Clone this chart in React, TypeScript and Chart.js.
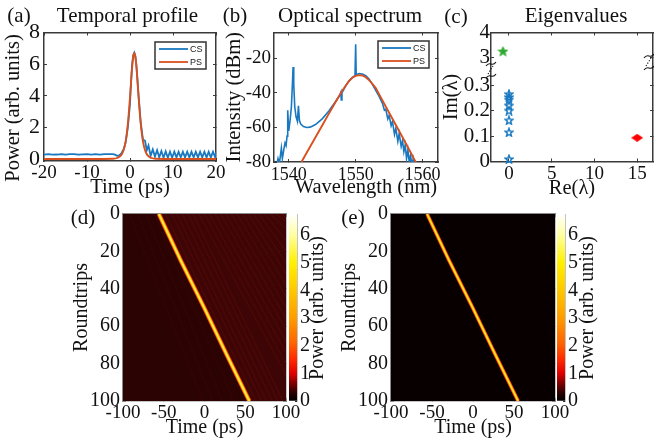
import React, { useEffect, useRef } from "react";
import { Chart, LinearScale, registerables } from "chart.js";

Chart.register(...registerables);

// ---------- data ----------
const csTimeLeft = [-20,-19,-18,-17,-16,-15,-14,-13,-12,-11,-10,-9,-8,-7,-6,-5,-4,-3.5,-3,-2.5,-2,-1.5,-1,-0.5,0,0.25,0.5,0.75,1,1.25,1.5,2,2.5,3,3.2,3.5,3.9];
const csPowerLeft = [0.27,0.3,0.27,0.28,0.31,0.27,0.3,0.31,0.27,0.29,0.31,0.27,0.3,0.27,0.31,0.3,0.3,0.27,0.2,0.22,0.36,0.6,1.05,2.0,3.5,4.9,6.0,6.55,6.72,6.5,5.9,4.0,2.3,1.25,1.2,1.15,0.55];
const csTimeRight = [4.3,4.8,5.3,5.8,6.3,6.8,7.3,7.8,8.3,8.8,9.3,9.8,10.3,10.8,11.3,11.8,12.3,12.8,13.3,13.8,14.3,14.8,15.3,15.8,16.3,16.8,17.3,17.8,18.3,18.8,19.3,19.8,20];
const csPowerRight = [0.85,0.2,0.6,0.15,0.55,0.1,0.5,0.08,0.48,0.08,0.46,0.08,0.46,0.1,0.45,0.1,0.45,0.1,0.46,0.1,0.45,0.1,0.45,0.1,0.46,0.1,0.46,0.1,0.45,0.1,0.46,0.1,0.42];
const psTime = [-20,-6,-4,-3,-2,-1.5,-1,-0.5,0,0.25,0.5,0.75,1,1.25,1.5,1.75,2,2.5,3,3.5,4,5,6,8,20];
const psPower = [0,0,0.01,0.06,0.26,0.55,1.13,2.21,3.9,4.89,5.8,6.46,6.7,6.46,5.8,4.89,3.9,2.21,1.13,0.55,0.26,0.06,0.01,0,0];

const specCsWave = [1538.2,1538.4,1538.6,1538.9,1539.05,1539.3,1539.45,1539.6,1539.75,1539.85,1540,1540.2,1540.4,1540.55,1540.65,1540.75,1540.9,1541.1,1541.3,1541.45,1541.6,1541.8,1542.2,1542.7,1543.2,1544,1545,1546,1547,1547.6,1547.8,1547.85,1547.95,1548.5,1549,1549.5,1549.9,1550,1550.08,1550.5,1551,1551.5,1552,1552.5,1553,1553.5,1554,1554.3,1554.5,1554.8,1555,1555.3,1555.5,1555.8,1556,1556.3,1556.5,1556.8,1557,1557.2,1557.4,1557.6,1557.8,1558,1558.2,1558.4,1558.6,1558.8];
const specCsDb = [-82,-78,-81,-72,-78,-72,-69,-70.5,-65,-50,-62,-56,-48,-35,-25,-35,-48,-54,-56.5,-47.5,-56,-58,-59.5,-60,-59.8,-58.3,-55,-50.5,-45,-41.5,-39.5,-44,-40,-36,-33,-31,-30,-11.8,-29.5,-28.8,-29,-30,-32,-35,-38.5,-42,-46,-50,-49.5,-55,-53,-59,-56.5,-64,-60.5,-68,-63.5,-71,-67.5,-74,-70,-78,-73,-80,-76,-82,-78,-83];
const specPsWave = [1541.9,1543,1544,1545,1546,1547,1548,1548.5,1549,1549.5,1550,1550.5,1551,1551.5,1552,1552.5,1553,1554,1555,1556,1557,1558,1559];
const specPsDb = [-80,-72.5,-65.7,-58.9,-52,-45.3,-38.7,-35.8,-33.2,-31.2,-30.1,-29.7,-29.9,-30.9,-32.6,-34.7,-37.2,-44.3,-51.5,-58.6,-65.7,-72.9,-80.3];

const eigRadiationRe = [0,0,0,0,0,0,0,0];
const eigRadiationIm = [0.265,0.253,0.243,0.22,0.2,0.162,0.115,0.01];
const eigSolitonRe = [-0.7];
const eigSolitonIm = [3.24];
const eigPerturbRe = [15];
const eigPerturbIm = [0.093];

const roundtrips = [0,25,50,75,100];
const ridgeTimeD = [-56,-29,-0.5,27,55];
const ridgeTimeE = [-56,-29,-0.5,27,55];
const streakTopT = [-48,-40,-34,-27,-20,-14,-7,0,6,13,20,26,33,40,47,54,60,67,74,81,88,95];
const streakBottomT = [63,70,76,83,90,96,100,100,100,100,100,100,100,100,100,100,100,100,100,100,100,100];
const streakBottomR = [100,100,100,100,100,100,86,80,74,68,62,56,50,44,38,32,26,20,14,8,4,2];
const streakLeftTopT = [-92,-82,-72,-62];
const streakLeftBottomT = [-2,10,22,36];

const colorbarMax = 6.76;
const colorStopsV = [0,0.22,0.5,1,1.5,2.1,3,4,5,6,6.76];
const colorStopsC = ["#000000","#1c0000","#5a0000","#e00000","#ff2a00","#ff6400","#ff9c00","#ffc800","#fff000","#ffffa0","#ffffff"];

const tickA_X = [-20,-10,0,10,20];
const tickA_Y = [0,2,4,6,8];
const tickB_X = [1540,1550,1560];
const tickB_Y = [-80,-60,-40,-20];
const tickC_X = [0,5,10,15];
const tickC_Y = [0,0.1,0.2,0.3,3,4];
const tickH_X = [-100,-50,0,50,100];
const tickH_Y = [0,20,40,60,80,100];
const tickBar = [0,1,2,3,4,5,6];

// ---------- helpers ----------
const SERIF = "'Liberation Serif'";
const INK = "#111111";
const FRAME = "#3a3a3a";
const BLUE = "#1878c0";
const ORANGE = "#d9501e";

const zip = (xs: number[], ys: number[]) => xs.map((x, i) => ({ x, y: ys[i] }));

class BrokenAxis extends LinearScale {
  static id = "brokenAxis";
  static defaults = LinearScale.defaults;
  getPixelForValue(v: number) {
    const b = this.bottom, t = this.top, h = b - t;
    const f3 = 0.81;
    const fLow = 76.5 / h;
    let f: number;
    if (v <= 0.3) f = (v / 0.3) * fLow;
    else if (v >= 3) f = f3 + (v - 3) * (1 - f3);
    else f = fLow + ((v - 0.3) / 2.7) * (f3 - fLow);
    return b - f * h;
  }
}
Chart.register(BrokenAxis);

type Box = { l: number; t: number; r: number; b: number };

const fixTicks = (list: number[]) => (s: any) => {
  s.ticks = list.map((value) => ({ value }));
};

const fixSize = (prop: "width" | "height", size: number) => (s: any) => {
  s[prop] = size;
  s.paddingLeft = s.paddingRight = s.paddingTop = s.paddingBottom = 0;
};

function axes(o: {
  box: Box; xMin: number; xMax: number; yMin: number; yMax: number;
  xTicks: number[]; yTicks: number[]; xTitle: string; yTitle: string;
  xTickSize: number; yTickSize: number; titleSize: number;
  xTitleCy: number; yTitleCx: number; xPad: number; yPad: number;
  yType?: string; reverse?: boolean; frame?: string; hideXTitle?: boolean; hideYTitle?: boolean;
}) {
  const col = o.frame || FRAME;
  const w = o.box.l - (o.yTitleCx - o.titleSize / 2);
  const h = o.xTitleCy + o.titleSize / 2 - o.box.b;
  const yType = o.yType || "linear";
  const grid = { drawOnChartArea: false, tickLength: -3, tickColor: col, tickWidth: 1 };
  const border = { color: col, width: 1.5 };
  return {
    padding: { left: o.box.l - w, right: 654 - o.box.r, top: o.box.t, bottom: 444 - o.box.b - h },
    scales: {
      x: {
        type: "linear", min: o.xMin, max: o.xMax, position: "bottom", grid, border,
        afterBuildTicks: fixTicks(o.xTicks), afterFit: fixSize("height", h),
        ticks: { autoSkip: false, maxRotation: 0, color: INK, padding: o.xPad, font: { family: SERIF, size: o.xTickSize, lineHeight: 1 }, callback: (v: number) => String(v) },
        title: { display: !o.hideXTitle, text: o.xTitle, color: INK, padding: 0, font: { family: SERIF, size: o.titleSize, lineHeight: 1 } },
      },
      y: {
        type: yType, min: o.yMin, max: o.yMax, position: "left", reverse: !!o.reverse, grid, border,
        afterBuildTicks: fixTicks(o.yTicks), afterFit: fixSize("width", w),
        ticks: { autoSkip: false, color: INK, padding: o.yPad, font: { family: SERIF, size: o.yTickSize, lineHeight: 1 }, callback: (v: number) => String(v) },
        title: { display: !o.hideYTitle, text: o.yTitle, color: INK, padding: 0, font: { family: SERIF, size: o.titleSize, lineHeight: 1 } },
      },
      x2: {
        type: "linear", min: o.xMin, max: o.xMax, position: "top", grid, border,
        afterBuildTicks: fixTicks(o.xTicks), afterFit: fixSize("height", 0), ticks: { display: false },
      },
      y2: {
        type: yType, min: o.yMin, max: o.yMax, position: "right", reverse: !!o.reverse, grid, border,
        afterBuildTicks: fixTicks(o.yTicks), afterFit: fixSize("width", 0), ticks: { display: false },
      },
    },
  };
}

type Txt = { text: string; x: number; y: number; size: number; rot?: number };
const textPlugin = (items: Txt[]) => ({
  id: "panelText",
  afterDraw(chart: any) {
    const c = chart.ctx;
    c.save();
    c.fillStyle = INK;
    c.textAlign = "center";
    c.textBaseline = "middle";
    items.forEach((t) => {
      c.save();
      c.translate(t.x, t.y);
      if (t.rot) c.rotate(t.rot);
      c.font = `${t.size}px ${SERIF}`;
      c.fillText(t.text, 0, 0);
      c.restore();
    });
    c.restore();
  },
});

const legendPlugin = (x: number, y: number, w: number, h: number) => ({
  id: "boxLegend",
  afterDraw(chart: any) {
    const c = chart.ctx;
    c.save();
    c.fillStyle = "#fff";
    c.fillRect(x, y, w, h);
    c.strokeStyle = "#333";
    c.lineWidth = 1.5;
    c.strokeRect(x, y, w, h);
    const shown = chart.data.datasets.filter((d: any) => d.legend);
    shown.forEach((d: any, i: number) => {
      const ly = y + 7 + i * 13;
      c.strokeStyle = d.borderColor;
      c.lineWidth = 1.8;
      c.beginPath();
      c.moveTo(x + 4, ly);
      c.lineTo(x + 33, ly);
      c.stroke();
      c.fillStyle = "#222";
      c.font = "9px 'Liberation Sans'";
      c.textBaseline = "middle";
      c.fillText(d.label, x + 35, ly + 0.5);
    });
    c.restore();
  },
});

const breakPlugin = (marks: [number, number][]) => ({
  id: "axisBreak",
  afterDraw(chart: any) {
    const c = chart.ctx;
    c.save();
    c.strokeStyle = "#111";
    c.lineWidth = 1.1;
    marks.forEach(([x, y]) => {
      [-6, 6].forEach((dy) => {
        c.beginPath();
        c.moveTo(x - 5, y + dy + 2);
        c.bezierCurveTo(x - 1, y + dy - 4, x + 1, y + dy + 4, x + 5, y + dy - 2);
        c.stroke();
      });
      c.setLineDash([1.2, 1.6]);
      c.beginPath();
      c.moveTo(x - 3, y + 4);
      c.lineTo(x + 2, y - 4);
      c.stroke();
      c.setLineDash([]);
    });
    c.restore();
  },
});

function starSprite(size: number, fill: string | null, stroke: string, lw: number) {
  const cv = document.createElement("canvas");
  cv.width = cv.height = size;
  const c = cv.getContext("2d")!;
  const R = size / 2 - lw / 2, r = R * 0.42, cx = size / 2, cy = size / 2 + 0.5;
  c.beginPath();
  for (let i = 0; i < 10; i++) {
    const a = -Math.PI / 2 + (i * Math.PI) / 5;
    const q = i % 2 ? r : R;
    c[i ? "lineTo" : "moveTo"](cx + q * Math.cos(a), cy + q * Math.sin(a));
  }
  c.closePath();
  if (fill) { c.fillStyle = fill; c.fill(); }
  c.strokeStyle = stroke;
  c.lineWidth = lw;
  c.stroke();
  return cv;
}

function diamondSprite(w: number, h: number, fill: string) {
  const cv = document.createElement("canvas");
  cv.width = w; cv.height = h;
  const c = cv.getContext("2d")!;
  c.beginPath();
  c.moveTo(0, h / 2); c.lineTo(w / 2, 0); c.lineTo(w, h / 2); c.lineTo(w / 2, h);
  c.closePath();
  c.fillStyle = fill;
  c.fill();
  return cv;
}

const lineDs = (label: string, data: any[], color: string, width: number, extra: any = {}) => ({
  type: "line", label, data, borderColor: color, borderWidth: width, pointRadius: 0,
  tension: 0, fill: false, ...extra,
});

function heatmap(box: Box, ridge: number[], opts: {
  base: string; right: string; layers: [string, number][]; streak: string | null;
  xTitleCy: number; yTitleCx: number; letter: string; letterX: number;
}) {
  const ax = axes({
    box, xMin: -100, xMax: 100, yMin: 0, yMax: 100, reverse: true,
    xTicks: tickH_X, yTicks: tickH_Y, xTitle: "Time (ps)", yTitle: "Roundtrips",
    xTickSize: 19, yTickSize: 20, titleSize: 20, xTitleCy: opts.xTitleCy, yTitleCx: opts.yTitleCx,
    xPad: 6, yPad: 6, frame: "#8a8a8a",
  });
  const ds: any[] = [];
  ds.push(lineDs("right", [...zip(ridge, roundtrips), { x: 100, y: 100 }], "transparent", 0, { fill: { value: 0 }, backgroundColor: opts.right, order: 1000 }));
  if (opts.streak) {
    streakTopT.forEach((t, i) => ds.push(lineDs("streak", [{ x: t, y: 0 }, { x: streakBottomT[i], y: streakBottomR[i] }], opts.streak, 1.1, { order: 500 })));
    streakLeftTopT.forEach((t, i) => ds.push(lineDs("streak", [{ x: t, y: 0 }, { x: streakLeftBottomT[i], y: 100 }], "rgba(90,8,8,0.3)", 1, { order: 500 })));
  }
  opts.layers.forEach(([c, w], i) => ds.push(lineDs("ridge", zip(ridge, roundtrips), c, w, { order: 10 - i })));
  return {
    type: "line",
    data: { datasets: ds },
    options: {
      responsive: false, animation: false, devicePixelRatio: 1,
      layout: { padding: ax.padding }, scales: ax.scales,
      plugins: { legend: { display: false }, tooltip: { enabled: false }, title: { display: false } },
    },
    plugins: [
      {
        id: "plotBg",
        beforeDatasetsDraw(chart: any) {
          const a = chart.chartArea;
          chart.ctx.save();
          chart.ctx.fillStyle = opts.base;
          chart.ctx.fillRect(a.left, a.top, a.width, a.height);
          chart.ctx.restore();
        },
      },
      textPlugin([{ text: opts.letter, x: opts.letterX, y: 218, size: 21 }]),
    ],
  };
}

function colorbar(box: Box, titleX: number) {
  return {
    type: "bar",
    data: {
      labels: [""],
      datasets: [{
        label: "Power",
        data: [colorbarMax],
        barPercentage: 1,
        categoryPercentage: 1,
        borderWidth: 0,
        backgroundColor: (ctx: any) => {
          const a = ctx.chart.chartArea;
          if (!a) return "#000";
          const g = ctx.chart.ctx.createLinearGradient(0, a.bottom, 0, a.top);
          colorStopsV.forEach((v, i) => g.addColorStop(v / colorbarMax, colorStopsC[i]));
          return g;
        },
      }],
    },
    options: {
      responsive: false, animation: false, devicePixelRatio: 1,
      layout: { padding: { left: box.l, right: 654 - box.r - 20, top: box.t, bottom: 444 - box.b } },
      scales: {
        x: { display: false },
        y: {
          type: "linear", min: 0, max: colorbarMax, position: "right",
          afterBuildTicks: fixTicks(tickBar),
          afterFit: fixSize("width", 20),
          grid: { drawOnChartArea: false, tickLength: -2, tickColor: "#333", tickWidth: 1 },
          border: { color: "#c4c4c4", width: 1 },
          ticks: { autoSkip: false, color: INK, padding: 5, font: { family: SERIF, size: 20, lineHeight: 1 }, callback: (v: number) => String(v) },
        },
      },
      plugins: { legend: { display: false }, tooltip: { enabled: false } },
    },
    plugins: [
      textPlugin([{ text: "Power (arb. units)", x: titleX, y: 308, size: 20, rot: -Math.PI / 2 }]),
    ],
  };
}

function configs() {
  const boxA = { l: 44, t: 32.5, r: 216, b: 161 };
  const axA = axes({
    box: boxA, xMin: -20, xMax: 20, yMin: -0.13, yMax: 8, xTicks: tickA_X, yTicks: tickA_Y,
    xTitle: "Time (ps)", yTitle: "Power (arb. units)", xTickSize: 19, yTickSize: 22, titleSize: 20.5,
    xTitleCy: 188, yTitleCx: 14, xPad: 6, yPad: 7, hideYTitle: true,
  });
  const cfgA = {
    type: "line",
    data: {
      datasets: [
        lineDs("CS", zip([...csTimeLeft, ...csTimeRight], [...csPowerLeft, ...csPowerRight]), BLUE, 1.8, { legend: true, order: 2 }),
        lineDs("PS", zip(psTime, psPower), ORANGE, 1.9, { legend: true, order: 1, cubicInterpolationMode: "monotone" }),
      ],
    },
    options: {
      responsive: false, animation: false, devicePixelRatio: 1,
      layout: { padding: axA.padding }, scales: axA.scales,
      plugins: { legend: { display: false }, tooltip: { enabled: false } },
    },
    plugins: [
      textPlugin([
        { text: "(a)", x: 19, y: 16, size: 21 },
        { text: "Temporal profile", x: 127.5, y: 16, size: 21 },
        { text: "Power (arb. units)", x: 14, y: 108, size: 20.5, rot: -Math.PI / 2 },
      ]),
      legendPlugin(155, 42, 51, 27),
    ],
  };

  const boxB = { l: 274, t: 32.5, r: 438, b: 162 };
  const axB = axes({
    box: boxB, xMin: 1537.8, xMax: 1562.3, yMin: -80, yMax: -5, xTicks: tickB_X, yTicks: tickB_Y,
    xTitle: "Wavelength (nm)", yTitle: "Intensity (dBm)", xTickSize: 18, yTickSize: 19, titleSize: 20.5,
    xTitleCy: 188, yTitleCx: 235, xPad: 7, yPad: 6, hideXTitle: true,
  });
  const cfgB = {
    type: "line",
    data: {
      datasets: [
        lineDs("CS", zip(specCsWave, specCsDb), BLUE, 1.6, { legend: true, order: 2 }),
        lineDs("PS", zip(specPsWave, specPsDb), ORANGE, 1.9, { legend: true, order: 1 }),
      ],
    },
    options: {
      responsive: false, animation: false, devicePixelRatio: 1,
      layout: { padding: axB.padding }, scales: axB.scales,
      plugins: { legend: { display: false }, tooltip: { enabled: false } },
    },
    plugins: [
      textPlugin([
        { text: "(b)", x: 235, y: 16, size: 21 },
        { text: "Optical spectrum", x: 350, y: 16, size: 21 },
        { text: "Wavelength (nm)", x: 366, y: 188, size: 20.5 },
      ]),
      legendPlugin(378, 41, 51, 27),
    ],
  };

  const boxC = { l: 491, t: 32.5, r: 653, b: 161.5 };
  const axC = axes({
    box: boxC, xMin: -2.1, xMax: 16.85, yMin: 0, yMax: 4, xTicks: tickC_X, yTicks: tickC_Y,
    xTitle: "Re(\u03bb)", yTitle: "Im(\u03bb)", xTickSize: 19, yTickSize: 21, titleSize: 20.5,
    xTitleCy: 189, yTitleCx: 452, xPad: 6, yPad: 4, yType: "brokenAxis",
  });
  const cfgC = {
    type: "scatter",
    data: {
      datasets: [
        { label: "radiation", data: zip(eigRadiationRe, eigRadiationIm), pointStyle: starSprite(10, null, BLUE, 1.4), pointRadius: 5, clip: false },
        { label: "soliton", data: zip(eigSolitonRe, eigSolitonIm), pointStyle: starSprite(11, "#2fa82f", "#2fa82f", 1), pointRadius: 5.5, clip: false },
        { label: "perturbation", data: zip(eigPerturbRe, eigPerturbIm), pointStyle: diamondSprite(12, 8, "#ff0000"), pointRadius: 5, clip: false },
      ],
    },
    options: {
      responsive: false, animation: false, devicePixelRatio: 1,
      layout: { padding: axC.padding, autoPadding: false }, scales: axC.scales,
      plugins: { legend: { display: false }, tooltip: { enabled: false } },
    },
    plugins: [
      textPlugin([
        { text: "(c)", x: 456, y: 17, size: 21 },
        { text: "Eigenvalues", x: 576, y: 16, size: 21 },
      ]),
      breakPlugin([[491, 70], [649, 62]]),
    ],
  };

  const cfgD = heatmap({ l: 123, t: 214, r: 286, b: 401 }, ridgeTimeD, {
    base: "#2b0303", right: "#3d0505", streak: "rgba(110,14,10,0.4)",
    layers: [["#c02000", 4.6], ["#ff6a00", 3.7], ["#ffc000", 2.7], ["#fff060", 1.3]],
    xTitleCy: 428, yTitleCx: 82, letter: "(d)", letterX: 83,
  });
  const cfgE = heatmap({ l: 391, t: 214, r: 555, b: 401 }, ridgeTimeE, {
    base: "#080000", right: "#080000", streak: null,
    layers: [["#b01800", 3.9], ["#ff5a00", 3.1], ["#ffb800", 2.1], ["#ffee50", 1]],
    xTitleCy: 428, yTitleCx: 350, letter: "(e)", letterX: 353,
  });

  return [
    cfgA, cfgB, cfgC, cfgD, cfgE,
    colorbar({ l: 289, t: 214, r: 297, b: 401 }, 318),
    colorbar({ l: 557, t: 214, r: 565, b: 401 }, 588),
  ];
}

export default function App() {
  const host = useRef<HTMLDivElement>(null);
  useEffect(() => {
    const el = host.current!;
    const charts = configs().map((cfg: any) => {
      const cv = document.createElement("canvas");
      cv.width = 654;
      cv.height = 444;
      cv.style.cssText = "position:absolute;left:0;top:0;width:654px;height:444px;display:block";
      el.appendChild(cv);
      return new Chart(cv, cfg);
    });
    return () => {
      charts.forEach((c) => { const cv = c.canvas; c.destroy(); cv.remove(); });
    };
  }, []);
  return (
    <div
      ref={host}
      style={{ position: "fixed", left: 0, top: 0, width: 654, height: 444, overflow: "hidden", background: "#fff", filter: "blur(0.4px)" }}
    />
  );
}
